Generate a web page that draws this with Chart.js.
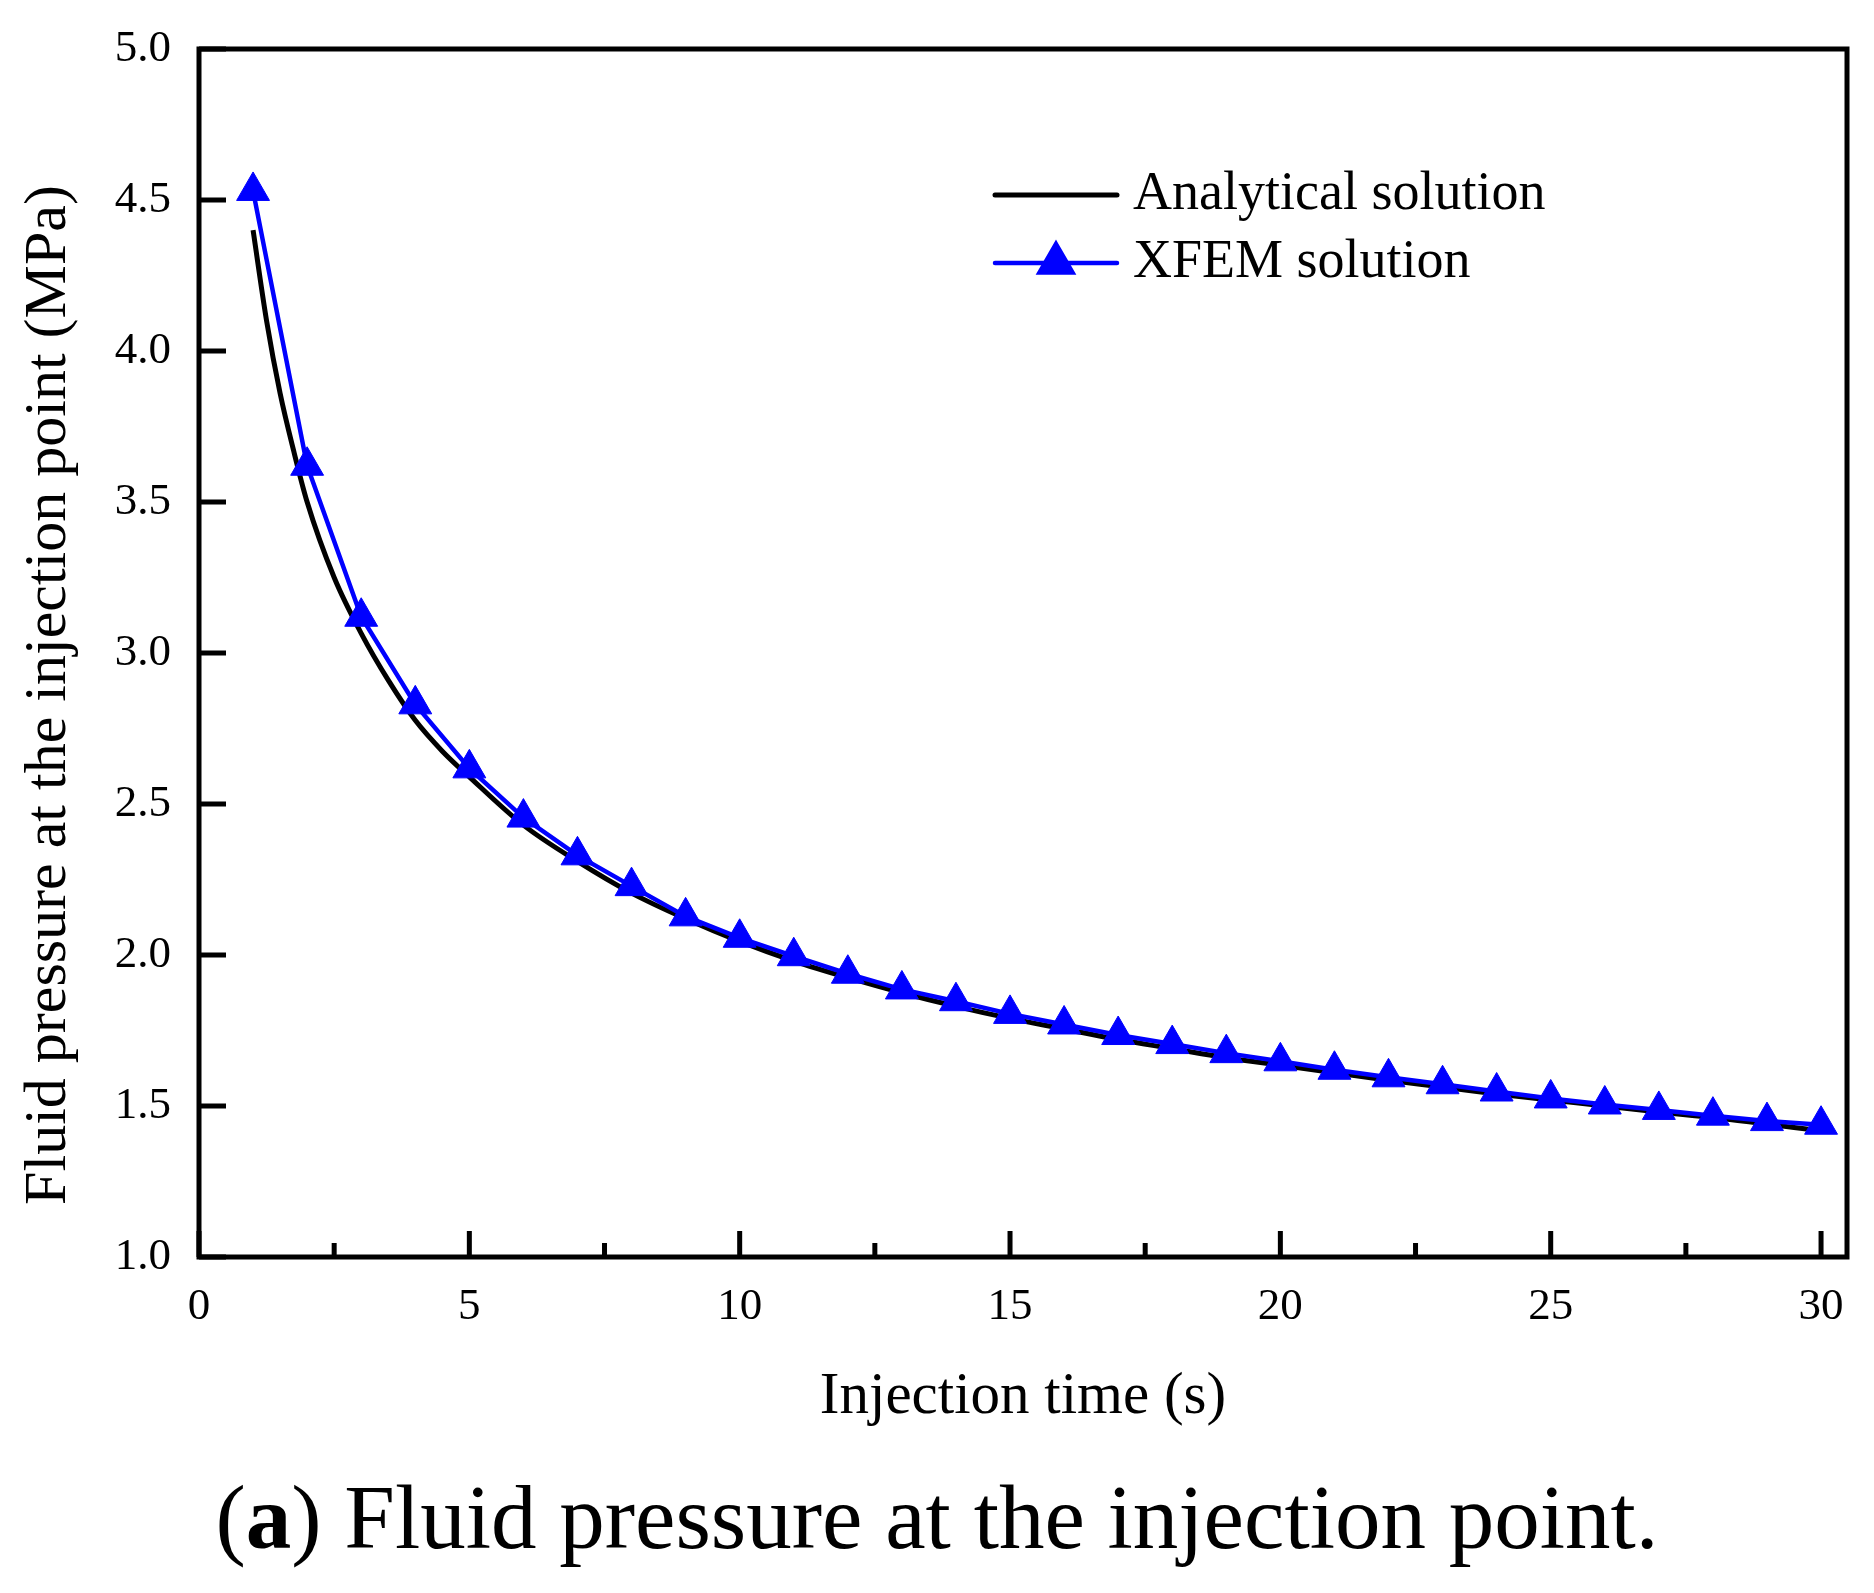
<!DOCTYPE html>
<html>
<head>
<meta charset="utf-8">
<script src="https://cdn.jsdelivr.net/npm/chart.js@4.4.1/dist/chart.umd.min.js"></script>
<style>
html,body{margin:0;padding:0;background:#fff;}
#wrap{position:relative;width:1874px;height:1593px;overflow:hidden;}
#c{position:absolute;left:0;top:0;}
#cap{position:absolute;left:0;top:1468px;width:1874px;text-align:center;font-family:"Liberation Serif",serif;font-size:91px;line-height:100px;color:#000;white-space:nowrap;}
</style>
</head>
<body>
<div id="wrap">
<canvas id="c" width="1874" height="1593"></canvas>
<div id="cap">(<b>a</b>) Fluid pressure at the injection point.</div>
</div>
<script>
// ---- data ----
const timeXFEM = [1,2,3,4,5,6,7,8,9,10,11,12,13,14,15,16,17,18,19,20,21,22,23,24,25,26,27,28,29,30];
const pressureXFEM = [4.53,3.62,3.12,2.83,2.618,2.455,2.33,2.228,2.128,2.057,1.996,1.938,1.886,1.847,1.805,1.77,1.735,1.705,1.675,1.648,1.62,1.595,1.572,1.548,1.525,1.505,1.487,1.468,1.45,1.438];
const timeAnalytical = [1,1.25,1.5,1.75,2,2.5,3,3.5,4,4.5,5,6,7,8,9,10,11,12,13,14,15,16,17,18,19,20,21,22,23,24,25,26,27,28,29,30];
const pressureAnalytical = [4.40,4.10,3.86,3.67,3.50,3.25,3.065,2.91,2.777,2.675,2.59,2.43,2.31,2.205,2.12,2.045,1.98,1.925,1.875,1.83,1.79,1.755,1.72,1.69,1.66,1.635,1.61,1.585,1.563,1.54,1.52,1.50,1.48,1.462,1.44,1.418];
const xTickValues = [0,5,10,15,20,25,30];
const xMinorTickValues = [2.5,7.5,12.5,17.5,22.5,27.5];
const yTickValues = [1.0,1.5,2.0,2.5,3.0,3.5,4.0,4.5,5.0];
const seriesNames = ['Analytical solution','XFEM solution'];
const xTitle = 'Injection time (s)';
const yTitle = 'Fluid pressure at the injection point (MPa)';

const FONT = '"Liberation Serif", "Times New Roman", serif';

const framePlugin = {
  id: 'frame',
  afterDatasetsDraw(chart) {
    const {ctx, chartArea: {left, right, top, bottom}, scales: {x, y}} = chart;
    ctx.save();
    ctx.strokeStyle = '#000';
    ctx.lineWidth = 5;
    ctx.lineCap = 'butt';
    ctx.beginPath();
    xTickValues.forEach(v => { const p = x.getPixelForValue(v); ctx.moveTo(p, bottom); ctx.lineTo(p, bottom - 26); });
    xMinorTickValues.forEach(v => { const p = x.getPixelForValue(v); ctx.moveTo(p, bottom); ctx.lineTo(p, bottom - 14); });
    yTickValues.forEach(v => { const p = y.getPixelForValue(v); ctx.moveTo(left, p); ctx.lineTo(left + 27, p); });
    ctx.stroke();
    ctx.lineJoin = 'miter';
    ctx.strokeRect(left, top, right - left, bottom - top);
    ctx.restore();
  }
};

const yTitlePlugin = {
  id: 'yTitle',
  afterDraw(chart) {
    const ctx = chart.ctx;
    ctx.save();
    ctx.translate(49, 695);
    ctx.rotate(-Math.PI / 2);
    ctx.font = '60px ' + FONT;
    ctx.fillStyle = '#000';
    ctx.textAlign = 'center';
    ctx.textBaseline = 'middle';
    ctx.fillText(yTitle, 0, 0);
    ctx.restore();
  }
};

const legendPlugin = {
  id: 'innerLegend',
  afterDraw(chart) {
    const ctx = chart.ctx;
    const rows = [195, 263];
    ctx.save();
    chart.data.datasets.forEach((ds, i) => {
      const yy = rows[i];
      ctx.strokeStyle = ds.borderColor;
      ctx.lineWidth = ds.borderWidth;
      ctx.lineCap = 'round';
      ctx.beginPath();
      ctx.moveTo(995, yy);
      ctx.lineTo(1117, yy);
      ctx.stroke();
      if (ds.pointRadius > 0) {
        ctx.fillStyle = ds.pointBackgroundColor;
        ctx.strokeStyle = ds.pointBorderColor;
        Chart.helpers.drawPoint(ctx, {pointStyle: ds.pointStyle, radius: ds.pointRadius, borderWidth: ds.pointBorderWidth, rotation: 0}, 1056, yy);
      }
      ctx.fillStyle = '#000';
      ctx.font = '54px ' + FONT;
      ctx.textBaseline = 'middle';
      ctx.textAlign = 'left';
      ctx.fillText(ds.label, 1133, yy);
    });
    ctx.restore();
  }
};

new Chart(document.getElementById('c'), {
  type: 'line',
  data: {
    datasets: [
      {
        label: seriesNames[0],
        data: timeAnalytical.map((t, i) => ({x: t, y: pressureAnalytical[i]})),
        borderColor: '#000000',
        backgroundColor: '#000000',
        borderWidth: 5,
        pointRadius: 0,
        cubicInterpolationMode: 'monotone',
        fill: false,
        order: 2
      },
      {
        label: seriesNames[1],
        data: timeXFEM.map((t, i) => ({x: t, y: pressureXFEM[i]})),
        borderColor: '#0000FF',
        backgroundColor: '#0000FF',
        pointBackgroundColor: '#0000FF',
        pointBorderColor: '#0000FF',
        pointBorderWidth: 1,
        borderWidth: 4.5,
        pointStyle: 'triangle',
        pointRadius: 19,
        tension: 0,
        fill: false,
        order: 1
      }
    ]
  },
  options: {
    responsive: false,
    animation: false,
    devicePixelRatio: 1,
    layout: {padding: {left: 0, top: 49, right: 27, bottom: 160}},
    plugins: {
      legend: {display: false},
      tooltip: {enabled: false},
      title: {display: false}
    },
    scales: {
      x: {
        type: 'linear',
        min: 0,
        max: 30.48,
        afterBuildTicks: s => { s.ticks = xTickValues.map(v => ({value: v})); },
        afterFit: s => { s.height = 176; s.paddingLeft = 0; s.paddingRight = 0; s.paddingTop = 0; s.paddingBottom = 0; },
        grid: {display: false, drawTicks: false},
        border: {display: false},
        ticks: {
          autoSkip: false, maxRotation: 0, padding: 23, color: '#000',
          font: {family: FONT, size: 45},
          callback: v => String(v)
        },
        title: {display: true, text: xTitle, color: '#000', font: {family: FONT, size: 59}, padding: {top: 0, bottom: 0}}
      },
      y: {
        type: 'linear',
        min: 1,
        max: 5,
        afterBuildTicks: s => { s.ticks = yTickValues.map(v => ({value: v})); },
        afterFit: s => { s.width = 199; s.paddingTop = 0; s.paddingBottom = 0; s.paddingLeft = 0; s.paddingRight = 0; },
        grid: {display: false, drawTicks: false},
        border: {display: false},
        ticks: {
          autoSkip: false, padding: 28, color: '#000',
          font: {family: FONT, size: 45},
          callback: v => Number(v).toFixed(1)
        },
        title: {display: false, text: yTitle}
      }
    }
  },
  plugins: [framePlugin, yTitlePlugin, legendPlugin]
});
</script>
</body>
</html>
